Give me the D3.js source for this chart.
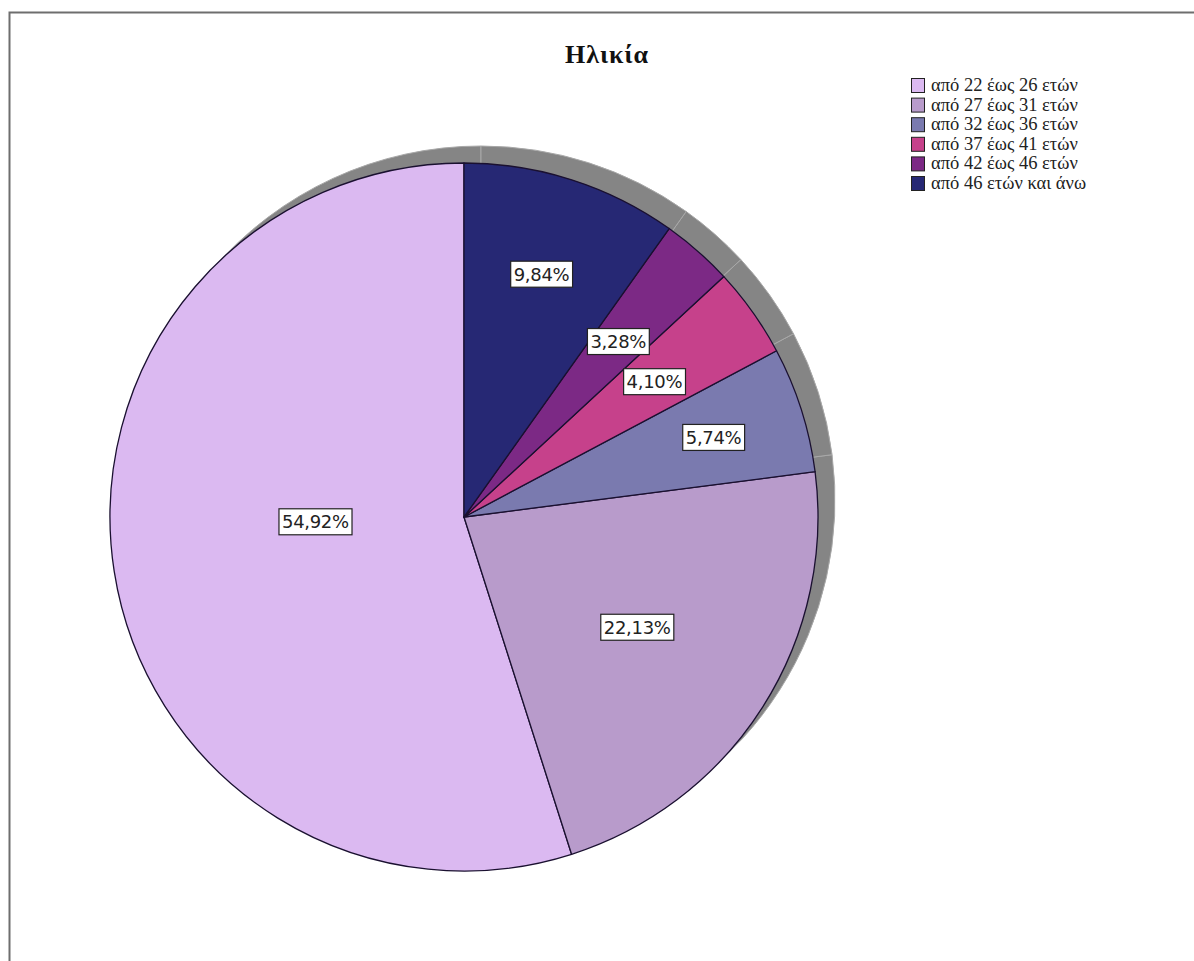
<!DOCTYPE html>
<html>
<head>
<meta charset="utf-8">
<script src="https://cdn.jsdelivr.net/npm/d3@7"></script>
<style>
  html, body { margin: 0; padding: 0; background: #fff; }
  svg { display: block; }
</style>
</head>
<body>
<svg id="chart" width="1194" height="961"></svg>
<script>
// ---- data ----
const title = "Ηλικία";
const categories = [
  "από 22 έως 26 ετών",
  "από 27 έως 31 ετών",
  "από 32 έως 36 ετών",
  "από 37 έως 41 ετών",
  "από 42 έως 46 ετών",
  "από 46 ετών και άνω"
];
const values = [54.92, 22.13, 5.74, 4.10, 3.28, 9.84];
const valueLabels = ["54,92%", "22,13%", "5,74%", "4,10%", "3,28%", "9,84%"];
const colors = ["#dbb9f1", "#b89bcb", "#7a7aaf", "#c6418b", "#7c2985", "#262874"];

// ---- layout ----
const W = 1194, H = 961;
const cx = 464, cy = 517, R = 354;
const shadowDx = 17, shadowDy = -17;
const labelRadiusFrac = [0.42, 0.58, 0.74, 0.66, 0.66, 0.72];
const labelAngleShift = [7, 0, 0, 0, 0, 0]; // degrees

const svg = d3.select("#chart");

// frame
svg.append("rect")
  .attr("x", 9.5).attr("y", 12.5)
  .attr("width", W + 20).attr("height", H + 20)
  .attr("fill", "#fff")
  .attr("stroke", "#6e6e6e").attr("stroke-width", 2);

// title
svg.append("text")
  .attr("x", 607).attr("y", 63)
  .attr("text-anchor", "middle")
  .attr("font-family", "Liberation Serif, DejaVu Serif, serif")
  .attr("font-weight", "bold")
  .attr("font-size", 26)
  .attr("letter-spacing", 1)
  .attr("fill", "#111")
  .text(title);

// pie: counter-clockwise from 12 o'clock
const pie = d3.pie()
  .sort(null)
  .value(d => d)
  .startAngle(0)
  .endAngle(-2 * Math.PI);
const arcs = pie(values);
const arc = d3.arc().innerRadius(0).outerRadius(R);

// shadow
const gShadow = svg.append("g").attr("transform", `translate(${cx + shadowDx},${cy + shadowDy})`);
gShadow.selectAll("path").data(arcs).join("path")
  .attr("d", arc)
  .attr("fill", "#858585")
  .attr("stroke", "#a8a8a8")
  .attr("stroke-width", 1);

// slices
const gPie = svg.append("g").attr("transform", `translate(${cx},${cy})`);
gPie.selectAll("path").data(arcs).join("path")
  .attr("d", arc)
  .attr("fill", (d, i) => colors[i])
  .attr("stroke", "#1a1030")
  .attr("stroke-width", 1.3)
  .attr("stroke-linejoin", "round");

// labels
const gLab = gPie.append("g");
arcs.forEach((d, i) => {
  const a = (d.startAngle + d.endAngle) / 2 + labelAngleShift[i] * Math.PI / 180;
  const r = R * labelRadiusFrac[i];
  const x = r * Math.sin(a), y = -r * Math.cos(a);
  const g = gLab.append("g").attr("transform", `translate(${x},${y})`);
  const rect = g.append("rect").attr("fill", "#fff").attr("stroke", "#222").attr("stroke-width", 1.2);
  const t = g.append("text")
    .attr("text-anchor", "middle")
    .attr("dy", "0.37em")
    .attr("font-family", "DejaVu Sans, sans-serif")
    .attr("font-size", 18)
    .attr("letter-spacing", -0.3)
    .attr("fill", "#222")
    .text(valueLabels[i]);
  const bb = t.node().getBBox();
  rect.attr("x", bb.x - 3).attr("y", -13).attr("width", bb.width + 6).attr("height", 26);
});

// legend
const legend = svg.append("g").attr("transform", "translate(911,78)");
const rowH = 19.6;
categories.forEach((c, i) => {
  const g = legend.append("g").attr("transform", `translate(0,${i * rowH})`);
  g.append("rect")
    .attr("x", 0.5).attr("y", 0.5).attr("width", 13).attr("height", 14)
    .attr("fill", colors[i]).attr("stroke", "#222").attr("stroke-width", 1);
  g.append("text")
    .attr("x", 20).attr("y", 13)
    .attr("font-family", "Liberation Serif, DejaVu Serif, serif")
    .attr("font-size", 18.5)
    .attr("fill", "#222")
    .text(c);
});
</script>
</body>
</html>
